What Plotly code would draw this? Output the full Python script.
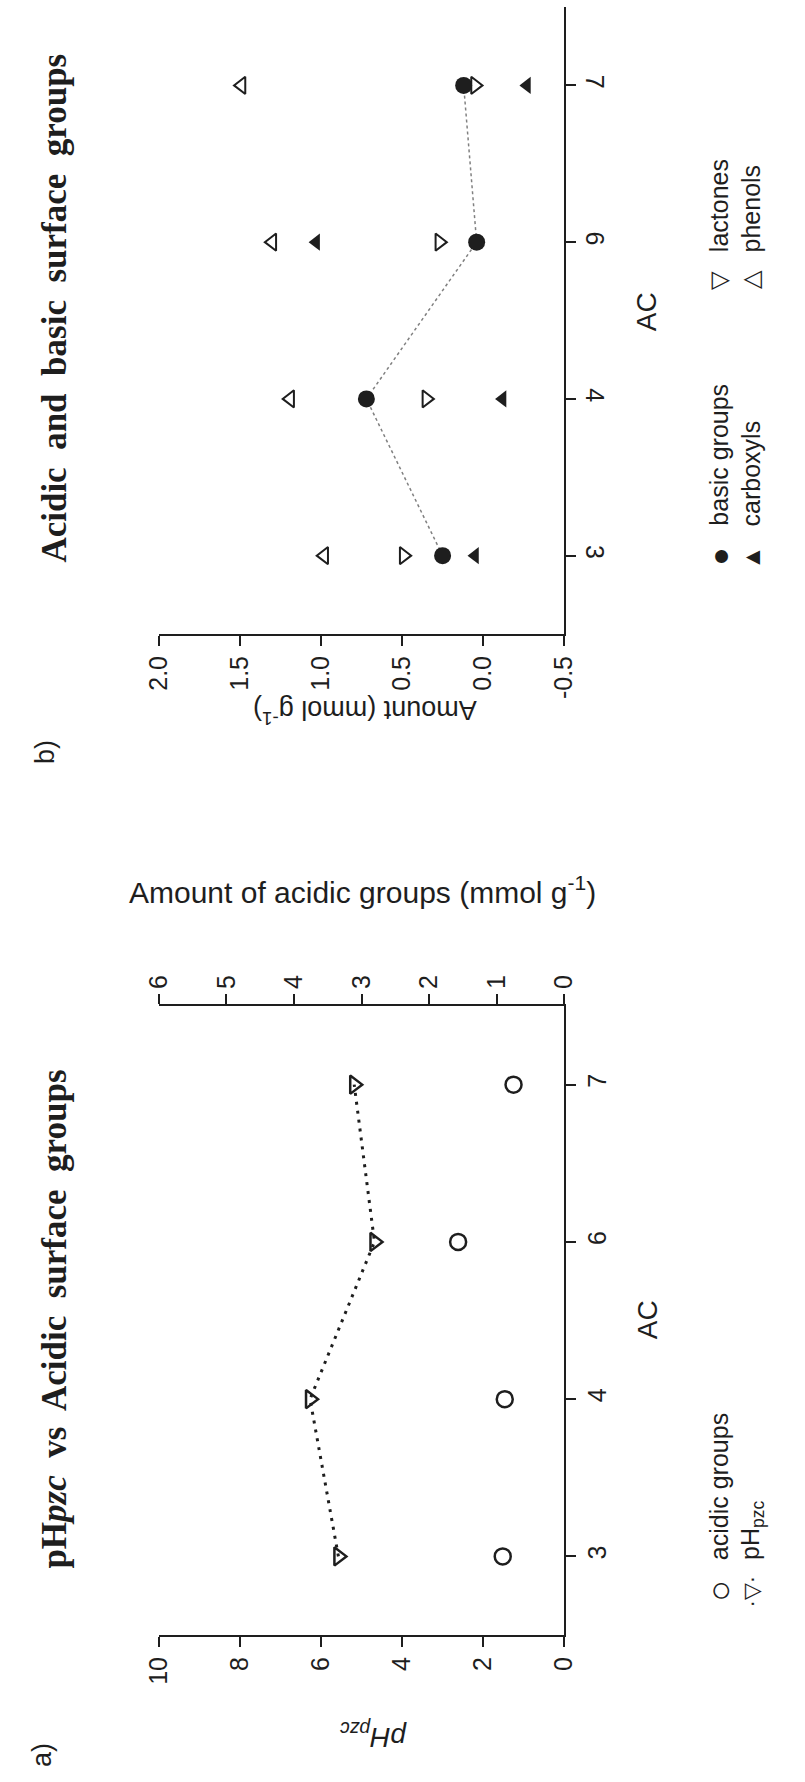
import plotly.graph_objects as go

# ---- data ----
ac = ['3', '4', '6', '7']
basic_groups = [0.25, 0.72, 0.04, 0.12]
carboxyls = [0.05, -0.12, 1.03, -0.27]
lactones = [0.49, 0.35, 0.27, 0.05]
phenols = [0.98, 1.19, 1.30, 1.49]
acidic_groups = [0.91, 0.88, 1.57, 0.75]
ph_pzc = [5.57, 6.27, 4.68, 5.18]

b_ticks = [-0.5, 0.0, 0.5, 1.0, 1.5, 2.0]
ph_ticks = [0, 2, 4, 6, 8, 10]
acid_ticks = [0, 1, 2, 3, 4, 5, 6]

W, H = 805, 1782
def px(x):
    return x / W
def py(y):
    return 1 - y / H

SANS = "Liberation Sans, Arial, sans-serif"
SERIF = "Liberation Serif, Times New Roman, serif"
INK = "#1e1e1e"

fig = go.Figure()

# ---- panel b ----
fig.add_trace(go.Scatter(x=basic_groups, y=ac, mode='lines+markers', xaxis='x', yaxis='y',
                         line=dict(color='#808080', width=1.5, dash='dot'),
                         marker=dict(symbol='circle', size=17, color=INK)))
fig.add_trace(go.Scatter(x=carboxyls, y=ac, mode='markers', xaxis='x', yaxis='y',
                         marker=dict(symbol='triangle-left', size=15, color=INK)))
fig.add_trace(go.Scatter(x=lactones, y=ac, mode='markers', xaxis='x', yaxis='y',
                         marker=dict(symbol='triangle-right-open', size=15, color=INK,
                                     line=dict(width=2, color=INK))))
fig.add_trace(go.Scatter(x=phenols, y=ac, mode='markers', xaxis='x', yaxis='y',
                         marker=dict(symbol='triangle-left-open', size=15, color=INK,
                                     line=dict(width=2, color=INK))))

# ---- panel a ----
fig.add_trace(go.Scatter(x=ph_pzc, y=ac, mode='lines+markers', xaxis='x2', yaxis='y2',
                         line=dict(color=INK, width=3, dash='3px,6px'),
                         marker=dict(symbol='triangle-right-open', size=16, color=INK,
                                     line=dict(width=2.5, color=INK))))
fig.add_trace(go.Scatter(x=acidic_groups, y=ac, mode='markers', xaxis='x3', yaxis='y2',
                         marker=dict(symbol='circle-open', size=16, color=INK,
                                     line=dict(width=2.5, color=INK))))

axis_common = dict(showline=True, linecolor=INK, linewidth=2, ticks='outside', ticklen=10,
                   tickwidth=2, tickcolor=INK, showgrid=False, zeroline=False,
                   tickfont=dict(family=SANS, size=25, color=INK))

xdom = [px(149), px(569)]
fig.update_layout(
    width=W, height=H, margin=dict(l=0, r=0, t=0, b=0),
    paper_bgcolor='white', plot_bgcolor='white', showlegend=False,
    xaxis=dict(domain=xdom, range=[2.0, -0.5], anchor='y', side='bottom',
               tickvals=b_ticks, ticktext=[f"{v:.1f}" for v in b_ticks], tickangle=-90,
               **axis_common),
    yaxis=dict(domain=[py(634), py(7)], type='category', categoryorder='array',
               categoryarray=ac, range=[-0.5, 3.5], anchor='x', side='right',
               tickangle=90, **axis_common),
    xaxis2=dict(domain=xdom, range=[10, 0], anchor='y2', side='bottom',
                tickvals=ph_ticks, tickangle=-90, **axis_common),
    xaxis3=dict(range=[6, 0], anchor='y2', overlaying='x2', side='top',
                tickvals=acid_ticks, tickangle=-90, **axis_common),
    yaxis2=dict(domain=[py(1635), py(1006)], type='category', categoryorder='array',
                categoryarray=ac, range=[-0.5, 3.5], anchor='x2', side='right',
                tickangle=-90, **axis_common),
)

def ann(text, x, y, size=27, angle=0, family=SANS, xanchor='center', yanchor='middle'):
    fig.add_annotation(text=text, x=px(x), y=py(y), xref='paper', yref='paper',
                       showarrow=False, textangle=angle, xanchor=xanchor, yanchor=yanchor,
                       font=dict(family=family, size=size, color=INK))

# panel b texts
ann("<b>Acidic  and  basic  surface  groups</b>", 40, 308, size=35, angle=-90, family=SERIF)
ann("b)", 31, 752, size=27, angle=-90)
ann("Amount (mmol g<sup>-1</sup>)", 362, 712, size=27, angle=180)
ann("AC", 655, 312, size=28, angle=-90)
C1, C2 = 729, 763
ann("●", C1, 557, size=30, angle=-90)
ann("basic groups", C1, 528, size=25, angle=-90, yanchor='bottom')
ann("▲", C2, 557, size=24, angle=-90)
ann("carboxyls", C2, 528, size=25, angle=-90, yanchor='bottom')
ann("▽", C1, 280, size=24, angle=-90)
ann("lactones", C1, 254, size=25, angle=-90, yanchor='bottom')
ann("△", C2, 280, size=24, angle=-90)
ann("phenols", C2, 254, size=25, angle=-90, yanchor='bottom')

# panel a texts
ann("<b>pH<i>pzc</i>  vs  Acidic  surface  groups</b>", 40, 1319, size=35, angle=-90, family=SERIF)
ann("Amount of acidic groups (mmol g<sup>-1</sup>)", 360, 890, size=30)
ann("<i>pH<sub>pzc</sub></i>", 372, 1736, size=28, angle=180)
ann("a)", 28, 1755, size=27, angle=-90)
ann("AC", 655, 1320, size=28, angle=-90)
ann("○", C1, 1591, size=36, angle=-90)
ann("acidic groups", C1, 1562, size=25, angle=-90, yanchor='bottom')
ann("·▽·", C2, 1591, size=22, angle=-90)
ann("pH<sub>pzc</sub>", C2, 1562, size=25, angle=-90, yanchor='bottom')

fig.write_html("out.html")
